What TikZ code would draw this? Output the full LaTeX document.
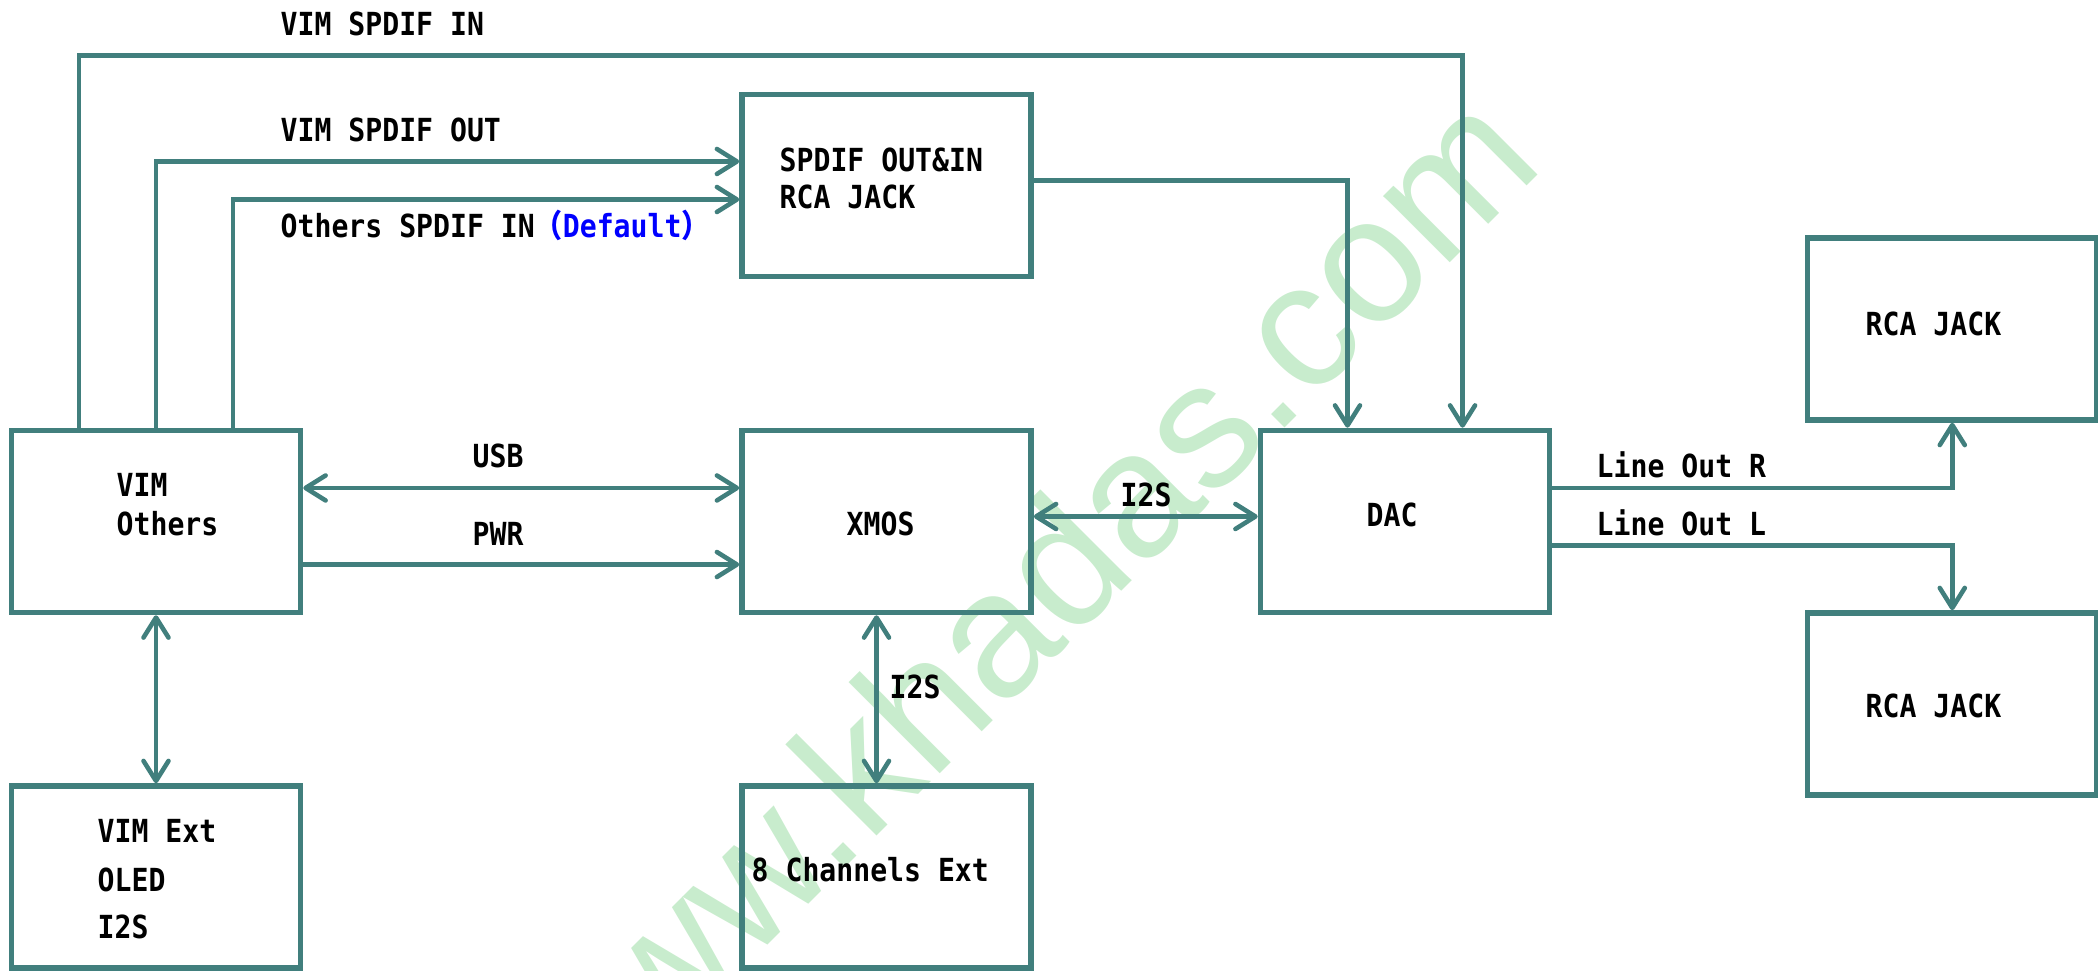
\documentclass[tikz,border=0pt]{standalone}
\usepackage{fontspec}
\newfontfamily\diagfont{DejaVu Sans Mono}[FakeStretch=0.885]
\newfontfamily\cjk{Noto Sans CJK SC}[FakeStretch=0.885]
\newfontfamily\markfont{Liberation Sans}
\usetikzlibrary{arrows.meta}
\definecolor{wire}{HTML}{417F7D}
\definecolor{wmgreen}{HTML}{C8ECCD}
\definecolor{deflt}{HTML}{0000FF}
\tikzstyle{block}=[draw=wire, line width=1.55pt, minimum width=2.89cm, minimum height=1.82cm, inner sep=0pt]
\tikzstyle{link}=[draw=wire, line width=1.3pt]
\tikzstyle{lbl}=[font=\diagfont\bfseries\fontsize{9.04}{10.8}\selectfont, anchor=base west, inner sep=0pt]
\tikzstyle{wmark}=[font=\markfont\fontsize{50.6}{60}\selectfont, text=wmgreen, rotate=45, anchor=base west, inner sep=0pt]
\tikzset{>={Straight Barb[length=2mm, width=2.5mm, round]}}

\begin{document}
\begin{tikzpicture}[x=0.01cm, y=-0.01cm]
  \clip (0,0) rectangle (2098,971);
  \node[wmark] (site) at (567,1146) {www.khadas.com};
  % blocks
  \node[block] (vim) at (156,521.5) {};
  \node[block] (vimext) at (156,877) {};
  \node[block] (spdif) at (886.5,185.5) {};
  \node[block] (xmos) at (886.5,521.5) {};
  \node[block] (ch8) at (886.5,877) {};
  \node[block] (dac) at (1405,521.5) {};
  \node[block] (rcar) at (1952.25,329) {};
  \node[block] (rcal) at (1952.25,704) {};
  % block texts
  \node[lbl] (vimtxta) at (116,497) {VIM};
  \node[lbl] (vimtxtb) at (116,536) {Others};
  \node[lbl] (exttxta) at (97,843) {VIM Ext};
  \node[lbl] (exttxtb) at (97,891) {OLED};
  \node[lbl] (exttxtc) at (97,939) {I2S};
  \node[lbl] (spdiftxta) at (779,172) {SPDIF OUT\&IN};
  \node[lbl] (spdiftxtb) at (779,209) {RCA JACK};
  \node[lbl] (xmostxt) at (846,536) {XMOS};
  \node[lbl] (ch8txt) at (751,882) {8 Channels Ext};
  \node[lbl] (dactxt) at (1366,527) {DAC};
  \node[lbl] (rcartxt) at (1865,336) {RCA JACK};
  \node[lbl] (rcaltxt) at (1865,718) {RCA JACK};
  % connectors
  \coordinate (inrow) at (700,55.5);
  \draw[link,->] ([xshift=-7.7mm]vim.north) |- (inrow) -| ([xshift=5.75mm]dac.north);
  \draw[link,->] (vim.north) |- ([yshift=2.4mm]spdif.west);
  \draw[link,->] ([xshift=7.7mm]vim.north) |- ([yshift=-1.4mm]spdif.west);
  \draw[link,->] ([yshift=0.5mm]spdif.east) -| ([xshift=-5.75mm]dac.north);
  \draw[link,<->] ([yshift=3.35mm]vim.east) -- ([yshift=3.35mm]xmos.west);
  \draw[link,->] ([yshift=-4.3mm]vim.east) -- ([yshift=-4.3mm]xmos.west);
  \draw[link,<->] ([yshift=0.5mm]xmos.east) -- ([yshift=0.5mm]dac.west);
  \draw[link,<->] ([xshift=-1mm]xmos.south) -- ([xshift=-1mm]ch8.north);
  \draw[link,<->] (vim.south) -- (vimext.north);
  \draw[link,->] ([yshift=3.35mm]dac.east) -| (rcar.south);
  \draw[link,->] ([yshift=-2.4mm]dac.east) -| (rcal.north);
  % connector labels
  \node[lbl] (lspdifin) at (280,36) {VIM SPDIF IN};
  \node[lbl] (lspdifout) at (280,142) {VIM SPDIF OUT};
  \node[lbl] (lothers) at (280,238) {Others SPDIF IN{\cjk\color{deflt}（}{\color{deflt}Default}{\cjk\color{deflt}）}};
  \node[lbl] (lusb) at (472,468) {USB};
  \node[lbl] (lpwr) at (472,546) {PWR};
  \node[lbl] (li2sa) at (1120,507) {I2S};
  \node[lbl] (li2sb) at (889,699) {I2S};
  \node[lbl] (lright) at (1596,478) {Line Out R};
  \node[lbl] (lleft) at (1596,536) {Line Out L};
\end{tikzpicture}
\end{document}
